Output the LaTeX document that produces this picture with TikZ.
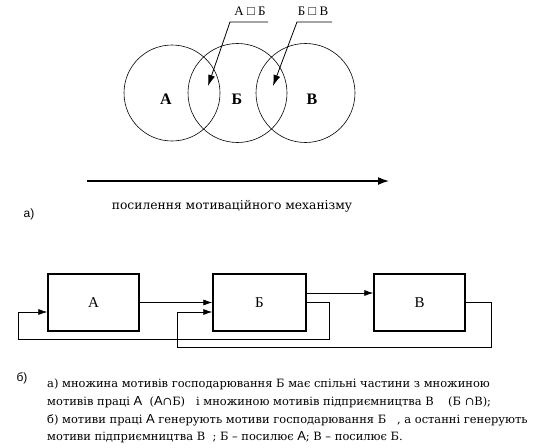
\documentclass[tikz,border=0pt]{standalone}
\usepackage{fontspec}
\setmainfont{DejaVu Serif}
\newfontfamily\libserif{Liberation Serif}
\newfontfamily\libsans{Liberation Sans}
\usetikzlibrary{arrows.meta}
\newcommand{\sA}{{\libsans\fontsize{13}{13}\selectfont А}}
\begin{document}
\begin{tikzpicture}[x=1pt,y=-1pt,
  ring/.style={draw, circle, line width=0.6pt, inner sep=0pt},
  ringlbl/.style={font=\libserif\fontsize{16}{18}\selectfont\bfseries},
  toplbl/.style={font=\libserif\fontsize{13}{15}\selectfont},
  lead/.style={line width=0.8pt, -{Latex[length=11pt,width=7pt]}},
  blk/.style={draw, line width=1.3pt, minimum height=57pt, inner sep=0pt},
  blklbl/.style={font=\libserif\fontsize{15}{17}\selectfont},
  flow/.style={line width=0.7pt, -{Latex[length=9pt,width=6pt]}},
  captxt/.style={anchor=west, inner sep=0pt, font=\fontsize{11.45}{13}\selectfont},
  tag/.style={font=\libsans\fontsize{12}{14}\selectfont, inner sep=0pt}]
\path[use as bounding box] (0,0) rectangle (535,447);
% circles
\node[ring, minimum size=96pt] (cA) at (172,93) {};
\node[ring, minimum size=99pt] (cB) at (237.5,93) {};
\node[ring, minimum size=99pt] (cV) at (305.5,93) {};
\node[ringlbl] (lA) at (166,99) {А};
\node[ringlbl] (lB) at (237,99) {Б};
\node[ringlbl] (lV) at (312,99) {В};
% leaders
\node[toplbl] (tAB) at (250,11) {А □ Б};
\node[toplbl] (tBV) at (313,11) {Б □ В};
\coordinate (p1) at (268,22);
\coordinate (k1) at (230,22);
\coordinate (t1) at (208,86);
\coordinate (p2) at (332,22);
\coordinate (k2) at (297,22);
\coordinate (t2) at (273,86);
\draw[lead] (p1) -- (k1) -- (t1);
\draw[lead] (p2) -- (k2) -- (t2);
% long arrow
\coordinate (s0) at (87,181);
\coordinate (s1) at (389,181);
\draw[line width=1.5pt, -{Latex[length=11pt,width=8pt]}] (s0) -- (s1);
\node[font=\fontsize{12.3}{14}\selectfont] (txt) at (232,206) {посилення мотиваційного механізму};
\node[tag] (ta) at (29,214) {а)};
% blocks
\node[blk, minimum width=91pt] (A) at (93.5,302.5) {};
\node[blk, minimum width=93pt] (B) at (259.5,302.5) {};
\node[blk, minimum width=91pt] (V) at (419.5,302.5) {};
\node[blklbl] (nA) at (A) {А};
\node[blklbl] (nB) at (B) {Б};
\node[blklbl] (nV) at (V) {В};
\draw[flow] (A.east) -- (B.west);
\draw[flow] ([yshift=9.5pt]B.east) -- ([yshift=9.5pt]V.west);
\coordinate (f1) at (329,339);
\coordinate (f2) at (18,339);
\draw[flow] (B.east) -| (f1) -- (f2) |- ([yshift=-9.5pt]A.west);
\coordinate (g1) at (491,347);
\coordinate (g2) at (177,347);
\draw[flow] (V.east) -| (g1) -- (g2) |- ([yshift=-9.5pt]B.west);
% caption
\node[tag] (tb) at (22,378) {б)};
\node[captxt] (c1) at (47,384) {а) множина мотивів господарювання Б має спільні частини з множиною};
\node[captxt] (c2) at (47,402) {мотивів праці \sA\ \ (\sA∩Б) \ \ і множиною мотивів підприємництва В \ \ \ (Б ∩В);};
\node[captxt] (c3) at (47,420) {б) мотиви праці \sA\ генерують мотиви господарювання Б \ \ , а останні генерують};
\node[captxt] (c4) at (47,437) {мотиви підприємництва В \ ; Б – посилює \sA; В – посилює Б.};
\end{tikzpicture}
\end{document}
